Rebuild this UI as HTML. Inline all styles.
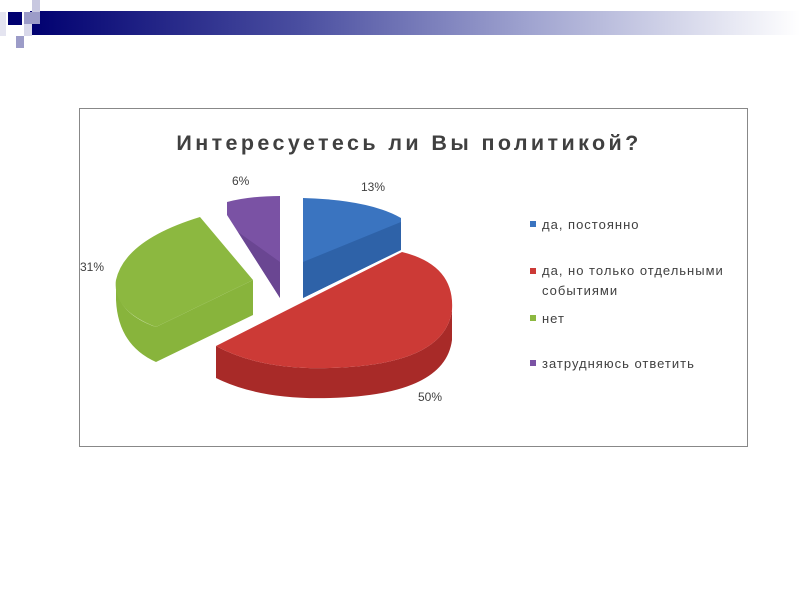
<!DOCTYPE html>
<html><head><meta charset="utf-8"><style>
html,body{margin:0;padding:0;background:#fff;width:800px;height:600px;overflow:hidden}
</style></head><body>
<svg width="800" height="600" xmlns="http://www.w3.org/2000/svg" font-family="Liberation Sans, DejaVu Sans, sans-serif">
<defs>
<linearGradient id="bar" x1="0" x2="1" y1="0" y2="0">
<stop offset="0" stop-color="#000070"/><stop offset="0.35" stop-color="#4a4ea0"/><stop offset="0.65" stop-color="#a0a4d0"/><stop offset="1" stop-color="#ffffff"/></linearGradient>
</defs>
<rect x="30" y="11" width="770" height="24" fill="url(#bar)"/>
<rect x="8" y="12" width="14" height="13" fill="#000070"/>
<rect x="32" y="0" width="8" height="12" fill="#c8c8e0"/>
<rect x="24" y="12" width="16" height="12" fill="#9c9cc8"/>
<rect x="24" y="24" width="8" height="12" fill="#d8d8ea"/>
<rect x="16" y="36" width="8" height="12" fill="#9c9cc8"/>
<rect x="0" y="12" width="6" height="24" fill="#e4e4f0"/>
<rect x="79.5" y="108.5" width="668" height="338" fill="#fff" stroke="#888" stroke-width="1"/>
<text x="409" y="150" text-anchor="middle" font-size="21.5" font-weight="bold" letter-spacing="3.4" fill="#404040">Интересуетесь ли Вы политикой?</text>
<!-- blue -->
<path d="M303,198 Q370,200 401,218 L401,250 L303,298 Z" fill="#3a74c0"/>
<path d="M303,262 L401,222 L401,250 L303,298 Z" fill="#2e62a8"/>
<!-- red -->
<path d="M216,346 L216,378 Q260,400 330,398 Q445,395 452,340 L452,310 Q445,365 330,368 Q260,370 216,346Z" fill="#a82a28"/>
<path d="M216,346 L402,252 Q455,265 452,310 Q445,365 330,368 Q260,370 216,346 Z" fill="#cc3a36"/>
<!-- green -->
<path d="M253,280 L253,315 L156,362 Q118,345 116,300 L116,280 Q114,312 156,327Z" fill="#88b43c"/>
<path d="M200,217 L253,280 L156,327 Q112,310 116,280 Q125,240 200,217Z" fill="#8cb840"/>
<!-- purple -->
<path d="M227,202 Q250,196 280,196 L280,298 L227,215 Z" fill="#7a52a4"/>
<path d="M280,262 L280,298 L238,232 Z" fill="#6a4692"/>
<g font-size="12" fill="#404040">
<text x="361" y="191">13%</text>
<text x="232" y="185">6%</text>
<text x="80" y="271">31%</text>
<text x="418" y="401">50%</text>
</g>
<g font-size="13" fill="#404040" letter-spacing="1">
<rect x="530" y="221" width="6" height="6" fill="#3a74c0"/><text x="542" y="229">да, постоянно</text>
<rect x="530" y="268" width="6" height="6" fill="#cc3a36"/><text x="542" y="275">да, но только отдельными</text>
<text x="542" y="295">событиями</text>
<rect x="530" y="315" width="6" height="6" fill="#8cb840"/><text x="542" y="323">нет</text>
<rect x="530" y="360" width="6" height="6" fill="#7a52a4"/><text x="542" y="368">затрудняюсь ответить</text>
</g>
</svg>
</body></html>
